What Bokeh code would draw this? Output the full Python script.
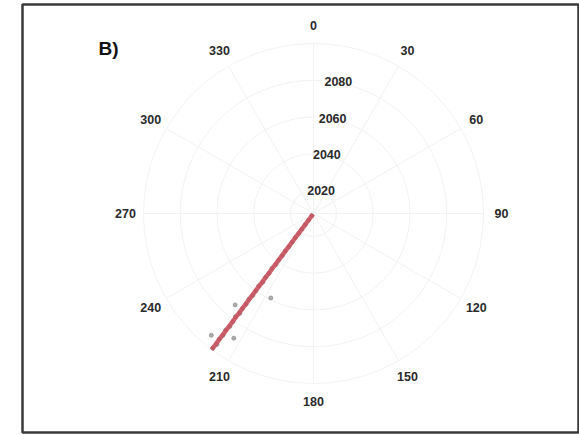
import math
from bokeh.plotting import figure
from bokeh.models import Range1d
from bokeh.core.properties import value
from bokeh.embed import file_html
from bokeh.resources import INLINE

# ---- data ----
angle_ticks = [0, 30, 60, 90, 120, 150, 180, 210, 240, 270, 300, 330]
radial_ticks = [2020, 2040, 2060, 2080, 2100]
radial_tick_labels = ["2020", "2040", "2060", "2080", ""]

point_years = [2009, 2012, 2015, 2018, 2021, 2024, 2027, 2030, 2033, 2036, 2039, 2042,
               2045, 2048, 2051, 2054, 2057, 2059, 2060, 2063, 2066, 2069, 2072, 2073,
               2075, 2078, 2081, 2084, 2087, 2088, 2090, 2093, 2094, 2096, 2099]
point_angles = [216.5, 217.0, 216.6, 216.9, 216.4, 217.1, 216.7, 216.5, 217.0, 216.6, 216.8, 216.3,
                217.2, 216.6, 216.9, 216.4, 217.1, 206.8, 216.7, 216.5, 217.0, 216.6, 216.8, 220.6,
                216.4, 217.1, 216.7, 216.5, 217.0, 212.6, 216.6, 216.9, 220.0, 216.4, 216.8]

trend_years = [2008, 2100]
trend_angles = [216.8, 216.8]

panel_label = "B)"

# ---- polar scale ----
R_MIN, R_MAX = 2007.5, 2100.0
R_PX = 170.0
def rscale(yr):
    return (yr - R_MIN) / (R_MAX - R_MIN) * R_PX

def to_xy(yr, ang):
    r = rscale(yr)
    a = math.radians(ang)
    return r * math.sin(a), r * math.cos(a)

p = figure(width=579, height=435, output_backend="svg", toolbar_location=None,
           x_range=Range1d(-291, 265), y_range=Range1d(-219, 209),
           min_border_left=22, min_border_right=1, min_border_top=4, min_border_bottom=3)
p.axis.visible = False
p.grid.visible = False
p.outline_line_color = "#3a3a3a"
p.outline_line_width = 2.5
p.background_fill_color = "white"
p.border_fill_color = "white"

grid_col = "#f2f2f2"
# circles
p.circle(x=[0] * len(radial_ticks), y=[0] * len(radial_ticks),
         radius=[rscale(t) for t in radial_ticks],
         fill_color=None, line_color=grid_col, line_width=1)
# spokes
ex, ey = zip(*[to_xy(R_MAX, a) for a in angle_ticks])
p.segment(x0=[0] * len(angle_ticks), y0=[0] * len(angle_ticks), x1=list(ex), y1=list(ey),
          line_color=grid_col, line_width=1)

# angle labels
lab_r = 188.0
lx = [lab_r * math.sin(math.radians(a)) for a in angle_ticks]
ly = [lab_r * math.cos(math.radians(a)) for a in angle_ticks]
p.text(x=lx, y=ly, text=[str(a) for a in angle_ticks], text_align="center",
       text_baseline="middle", text_font=value("Liberation Sans"), text_font_style="bold",
       text_font_size="12.5px", text_color="#2a2a2a")

# radial labels
rl = [(to_xy(t, 9.0), s) for t, s in zip(radial_ticks, radial_tick_labels) if s]
p.text(x=[c[0][0] for c in rl], y=[c[0][1] for c in rl], text=[c[1] for c in rl],
       x_offset=4, text_align="center", text_baseline="middle",
       text_font=value("Liberation Sans"), text_font_style="bold",
       text_font_size="12.5px", text_color="#2a2a2a")

# points
pxy = [to_xy(y, a) for y, a in zip(point_years, point_angles)]
p.scatter(x=[q[0] for q in pxy], y=[q[1] for q in pxy], size=4,
          fill_color="#8a8a8a", line_color="#8a8a8a", alpha=0.7)

# trend line
txy = [to_xy(y, a) for y, a in zip(trend_years, trend_angles)]
p.line(x=[q[0] for q in txy], y=[q[1] for q in txy], line_color="#c94a57",
       line_width=4.5, line_alpha=0.85)

# panel label
p.text(x=[-215], y=[165], text=[panel_label], text_align="left", text_baseline="middle",
       text_font=value("Liberation Sans"), text_font_style="bold",
       text_font_size="19px", text_color="#111111")

open("out.html", "w").write(file_html(p, INLINE))
